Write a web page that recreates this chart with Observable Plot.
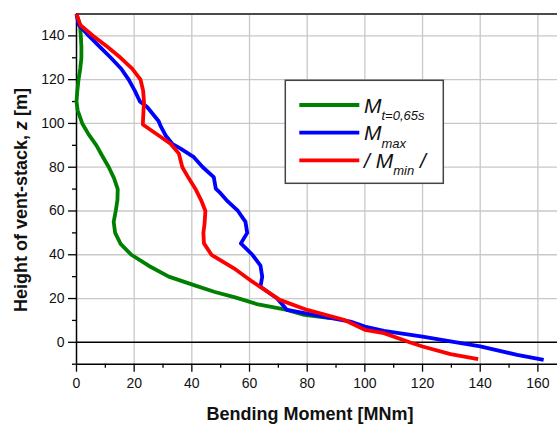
<!DOCTYPE html>
<html>
<head>
<meta charset="utf-8">
<script src="https://cdn.jsdelivr.net/npm/d3@7"></script>
<script src="https://cdn.jsdelivr.net/npm/@observablehq/plot@0.6"></script>
<style>
  html, body { margin: 0; padding: 0; background: white; }
  #chart svg { display: block; }
</style>
</head>
<body>
<div id="chart"></div>
<script>
// Series: bending moment [MNm] vs height z [m]
const greenZ = [150,145,140,135,130,125,120,115,110,106,100,95,90,85,80,75,70,65,60,55,50,45,40,35,30,26,23,20.5,17.3,14.8,12.5,11];
const greenM = [0,1.2,1.5,1.7,1.7,1.3,0.7,0.3,0,0.4,2,4.2,6.9,9,11.2,13,14.3,14.2,13.6,12.9,13.4,15.3,19,25,32,41,48,55,63,73,79,88];

const blueZ = [150,145,140,135,130,125,120,115,110,107.5,101,99,94.5,90.7,88.5,84.6,80,75.5,70.2,68,65,60,55,50,45.2,40,35,30,25.4,20,14.8,12,9.5,7.2,5.2,2.6,0.4,-1.9,-5.7,-8];
const blueM = [0,0.8,4.3,8.1,11.9,15.5,18.1,20.2,22,24.5,28.5,29.1,30.9,33.2,36.1,40.7,43.8,47.6,48.3,50,52,56,58.6,59.2,57,61,63.8,64.4,63.8,69.6,73,84.6,95,100,106.6,120,129.7,140,152.8,162];

const redZ = [150,145,140,135,130,125,120,115,110,105,99.5,94.5,90.7,86.2,80,74.8,70.2,65,60,54,50,45.2,40,33.8,27.7,19.4,14.8,10.3,5.7,4.2,0,-1.9,-5.4,-7.7];
const redM = [0,1.3,5.8,10.7,15.3,19.3,22.2,23.1,23.4,23.2,23,28.5,32.6,35.5,36.7,39,41.2,43.2,44.7,44.4,44,44.2,46.8,54.6,61,70.5,80,92.7,100,106.6,115.5,120,129.7,139.3];

const seriesNames = ["t=0,65s", "max", "min"];
const seriesColors = ["#008000", "#0000ff", "#ff0000"];

const xMajor = [0,20,40,60,80,100,120,140,160];
const xMinor = [10,30,50,70,90,110,130,150];
const yMajor = [0,20,40,60,80,100,120,140];
const yMinor = [-10,10,30,50,70,90,110,130];

const xTitle = "Bending Moment [MNm]";

const rows = [];
greenZ.forEach((z, i) => rows.push({s: seriesNames[0], z, m: greenM[i]}));
blueZ.forEach((z, i) => rows.push({s: seriesNames[1], z, m: blueM[i]}));
redZ.forEach((z, i) => rows.push({s: seriesNames[2], z, m: redM[i]}));

const font = "'Liberation Sans', Arial, sans-serif";

const chart = Plot.plot({
  width: 557,
  height: 425,
  marginLeft: 76,
  marginRight: 0,
  marginTop: 13.5,
  marginBottom: 61.3,
  style: {fontFamily: font, fontSize: "14px", background: "white", color: "#111"},
  x: {domain: [0, 166.8], label: null},
  y: {domain: [-10, 150], label: null},
  color: {domain: seriesNames, range: seriesColors},
  marks: [
    Plot.gridX(xMajor.filter(d => d > 0), {stroke: "#c8c8c8", strokeOpacity: 1, strokeWidth: 1.3}),
    Plot.gridY(yMajor.filter(d => d > 0), {stroke: "#c8c8c8", strokeOpacity: 1, strokeWidth: 1.3}),
    Plot.ruleY([150], {stroke: "#4a4a4a", strokeWidth: 2}),
    Plot.ruleY([0], {stroke: "black", strokeWidth: 1.5}),
    Plot.axisX(xMajor, {tickSize: 8, tickPadding: 6, stroke: "black", strokeWidth: 1.3, label: null, fontSize: 14}),
    Plot.axisX(xMinor, {tickSize: 4, stroke: "black", strokeWidth: 1.3, tickFormat: () => "", label: null}),
    Plot.axisY(yMajor, {tickSize: 8, tickPadding: 4, stroke: "black", strokeWidth: 1.3, label: null, fontSize: 14}),
    Plot.axisY(yMinor, {tickSize: 4, stroke: "black", strokeWidth: 1.3, tickFormat: () => "", label: null}),
    Plot.ruleY([-10], {stroke: "black", strokeWidth: 1.5}),
    Plot.ruleX([0], {stroke: "black", strokeWidth: 1.5}),
    Plot.line(rows, {x: "m", y: "z", z: "s", stroke: "s", strokeWidth: 3.8, strokeLinejoin: "round", strokeLinecap: "butt"})
  ]
});

document.getElementById("chart").appendChild(chart);

const svg = d3.select(chart);

// Axis titles
svg.append("text")
  .attr("x", 310).attr("y", 419.5)
  .attr("text-anchor", "middle")
  .attr("font-family", font).attr("font-size", 18).attr("font-weight", "bold").attr("fill", "#111")
  .text(xTitle);

const yt = svg.append("text")
  .attr("transform", "translate(26.5,200) rotate(-90)")
  .attr("text-anchor", "middle")
  .attr("font-family", font).attr("font-size", 18).attr("font-weight", "bold").attr("fill", "#111");
yt.append("tspan").text("Height of vent-stack, ");
yt.append("tspan").attr("font-style", "italic").text("z");
yt.append("tspan").text(" [m]");

// Legend
const lg = svg.append("g").attr("text-anchor", "start");
lg.append("rect")
  .attr("x", 285.3).attr("y", 80.3).attr("width", 158).attr("height", 103)
  .attr("fill", "white").attr("stroke", "#444").attr("stroke-width", 1.5);

const rowY = [105, 132.7, 160.3];
seriesNames.forEach((name, i) => {
  lg.append("line")
    .attr("x1", 299.3).attr("x2", 359.3).attr("y1", rowY[i]).attr("y2", rowY[i])
    .attr("stroke", seriesColors[i]).attr("stroke-width", 3.8);
  const t = lg.append("text")
    .attr("x", 364).attr("y", rowY[i] + 7.5)
    .attr("text-anchor", "start")
    .attr("font-family", font).attr("font-style", "italic").attr("font-size", 21).attr("fill", "#111");
  if (i === 2) t.append("tspan").text("/ ");
  t.append("tspan").text("M");
  t.append("tspan").attr("font-size", 13).attr("dy", 7.5).text(name);
  if (i === 2) t.append("tspan").attr("dy", -7.5).text(" /");
});
</script>
</body>
</html>
